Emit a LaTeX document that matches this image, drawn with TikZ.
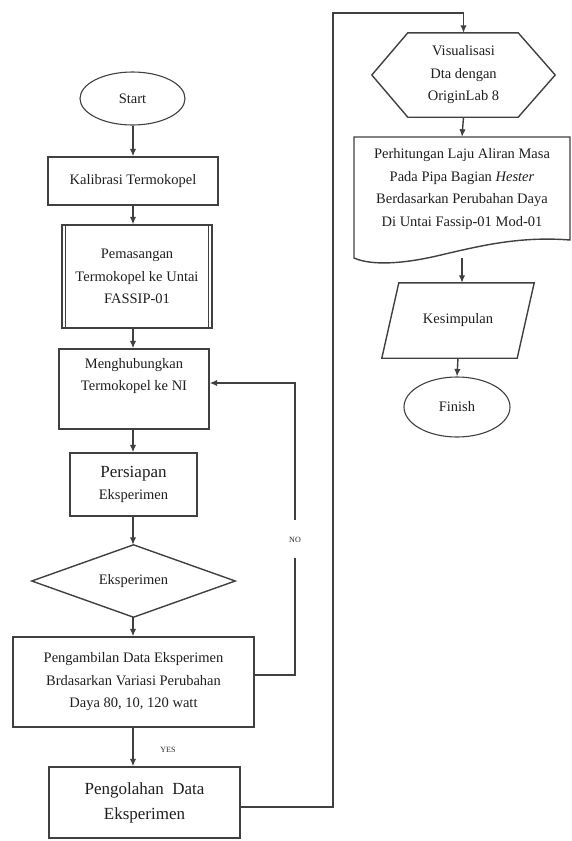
\documentclass[tikz,border=0pt]{standalone}
\usepackage{fontspec}
\setmainfont{Liberation Serif}
\usetikzlibrary{shapes.geometric,arrows.meta,calc}
\begin{document}
\begin{tikzpicture}[x=1pt,y=-1pt,
  line/.style={draw=black!75,line width=1.4pt},
  arr/.style={line,-{Latex[length=7.5pt,width=6.5pt]}},
  txt/.style={align=center,text=black!88,inner sep=0pt,font=\fontsize{14.5}{22.5}\selectfont},
  bigtxt/.style={align=center,text=black!88,inner sep=0pt,font=\fontsize{17}{25}\selectfont},
  box/.style={line,rectangle,txt},
  oval/.style={line,ellipse,txt,line width=1.1pt},
  shapebox/.style={rectangle,draw=none,inner sep=0pt},
  lbl/.style={text=black!85,inner sep=1pt,font=\fontsize{8}{9}\selectfont}
]
\useasboundingbox (0,0) rectangle (572,841);

% left column
\node[oval,minimum width=105,minimum height=53] (start) at (132.5,98.5) {Start};
\node[box,minimum width=170,minimum height=48] (kal) at (133,181) {Kalibrasi Termokopel};
\node[box,minimum width=150,minimum height=103] (pem) at (137,276.5) {Pemasangan\\Termokopel ke Untai\\FASSIP-01};
\draw[line] ($(pem.north west)+(4,0)$) -- ($(pem.south west)+(4,0)$);
\draw[line] ($(pem.north east)+(-4,0)$) -- ($(pem.south east)+(-4,0)$);
\node[box,minimum width=150,minimum height=80] (meng) at (134,389) {Menghubungkan\\Termokopel ke NI\\\strut};
\node[box,minimum width=127,minimum height=63] (pers) at (133.5,484.5) {{\fontsize{17}{17}\selectfont Persiapan}\\[-1pt]Eksperimen};
\node[shapebox,minimum width=203,minimum height=72] (dia) at (133.5,581) {};
\draw[line] (dia.north) -- (dia.east) -- (dia.south) -- (dia.west) -- cycle;
\node[txt] at (dia.center) {Eksperimen};
\node[box,minimum width=241,minimum height=90] (amb) at (133.5,682) {Pengambilan Data Eksperimen\\Brdasarkan Variasi Perubahan\\Daya 80, 10, 120 watt};
\node[line,rectangle,bigtxt,minimum width=191,minimum height=71] (olah) at (144.5,802.5) {Pengolahan\ \ Data\\Eksperimen};

% right column
\node[shapebox,minimum width=183,minimum height=84] (vis) at (463.5,75) {};
\draw[line] (vis.west) -- ($(vis.north west)+(36,0)$) -- ($(vis.north east)+(-37,0)$) -- (vis.east) -- ($(vis.south east)+(-37,0)$) -- ($(vis.south west)+(36,0)$) -- cycle;
\node[txt] at (vis.center) {Visualisasi\\Dta dengan\\OriginLab 8};

\node[shapebox,minimum width=216,minimum height=121] (doc) at (462,197.5) {};
\draw[line] (354,137) -- (570,137) -- (570,240)
  .. controls (520,236) and (480,246) .. (445,254)
  .. controls (405,264) and (372,266) .. (354,258) -- cycle;
\node[txt] at (462,189) {Perhitungan Laju Aliran Masa\\Pada Pipa Bagian \textit{Hester}\\Berdasarkan Perubahan Daya\\Di Untai Fassip-01 Mod-01};

\node[shapebox,minimum width=152,minimum height=75] (kes) at (458,320.5) {};
\draw[line] ($(kes.north west)+(17,0)$) -- (kes.north east) -- ($(kes.south east)+(-17,0)$) -- (kes.south west) -- cycle;
\node[txt] at (kes.center) {Kesimpulan};

\node[oval,minimum width=106,minimum height=60] (fin) at (457,407) {Finish};

% connectors (vertical spine of the left column at x = 133)
\draw[arr] (start.south -| kal.south) -- (kal.north);
\draw[arr] (kal.south) -- (kal.south |- pem.north);
\draw[arr] (pem.south -| kal.south) -- (kal.south |- meng.north);
\draw[arr] (meng.south -| kal.south) -- (kal.south |- pers.north);
\draw[arr] (pers.south -| kal.south) -- (kal.south |- dia.north);
\draw[arr] (dia.south -| kal.south) -- (kal.south |- amb.north);
\draw[arr] (amb.south -| kal.south) -- (kal.south |- olah.north);
\node[lbl] (yes) at (168,750) {YES};

\coordinate (nobot) at (295,558);
\coordinate (notop) at (295,520);
\draw[line] ($(amb.east)+(0,-7)$) -| (nobot);
\draw[arr] (notop) |- ($(meng.east)+(0,-6)$);
\node[lbl] (no) at (295,540) {NO};

\draw[arr] ($(olah.east)+(0,4.5)$) -| (333,13) -| (vis.north);
\draw[arr] (vis.south) -- (doc.north);
\draw[arr] (doc.south) -- (doc.south |- kes.north);
\draw[arr] (kes.south) -- (fin.north);
\end{tikzpicture}
\end{document}
